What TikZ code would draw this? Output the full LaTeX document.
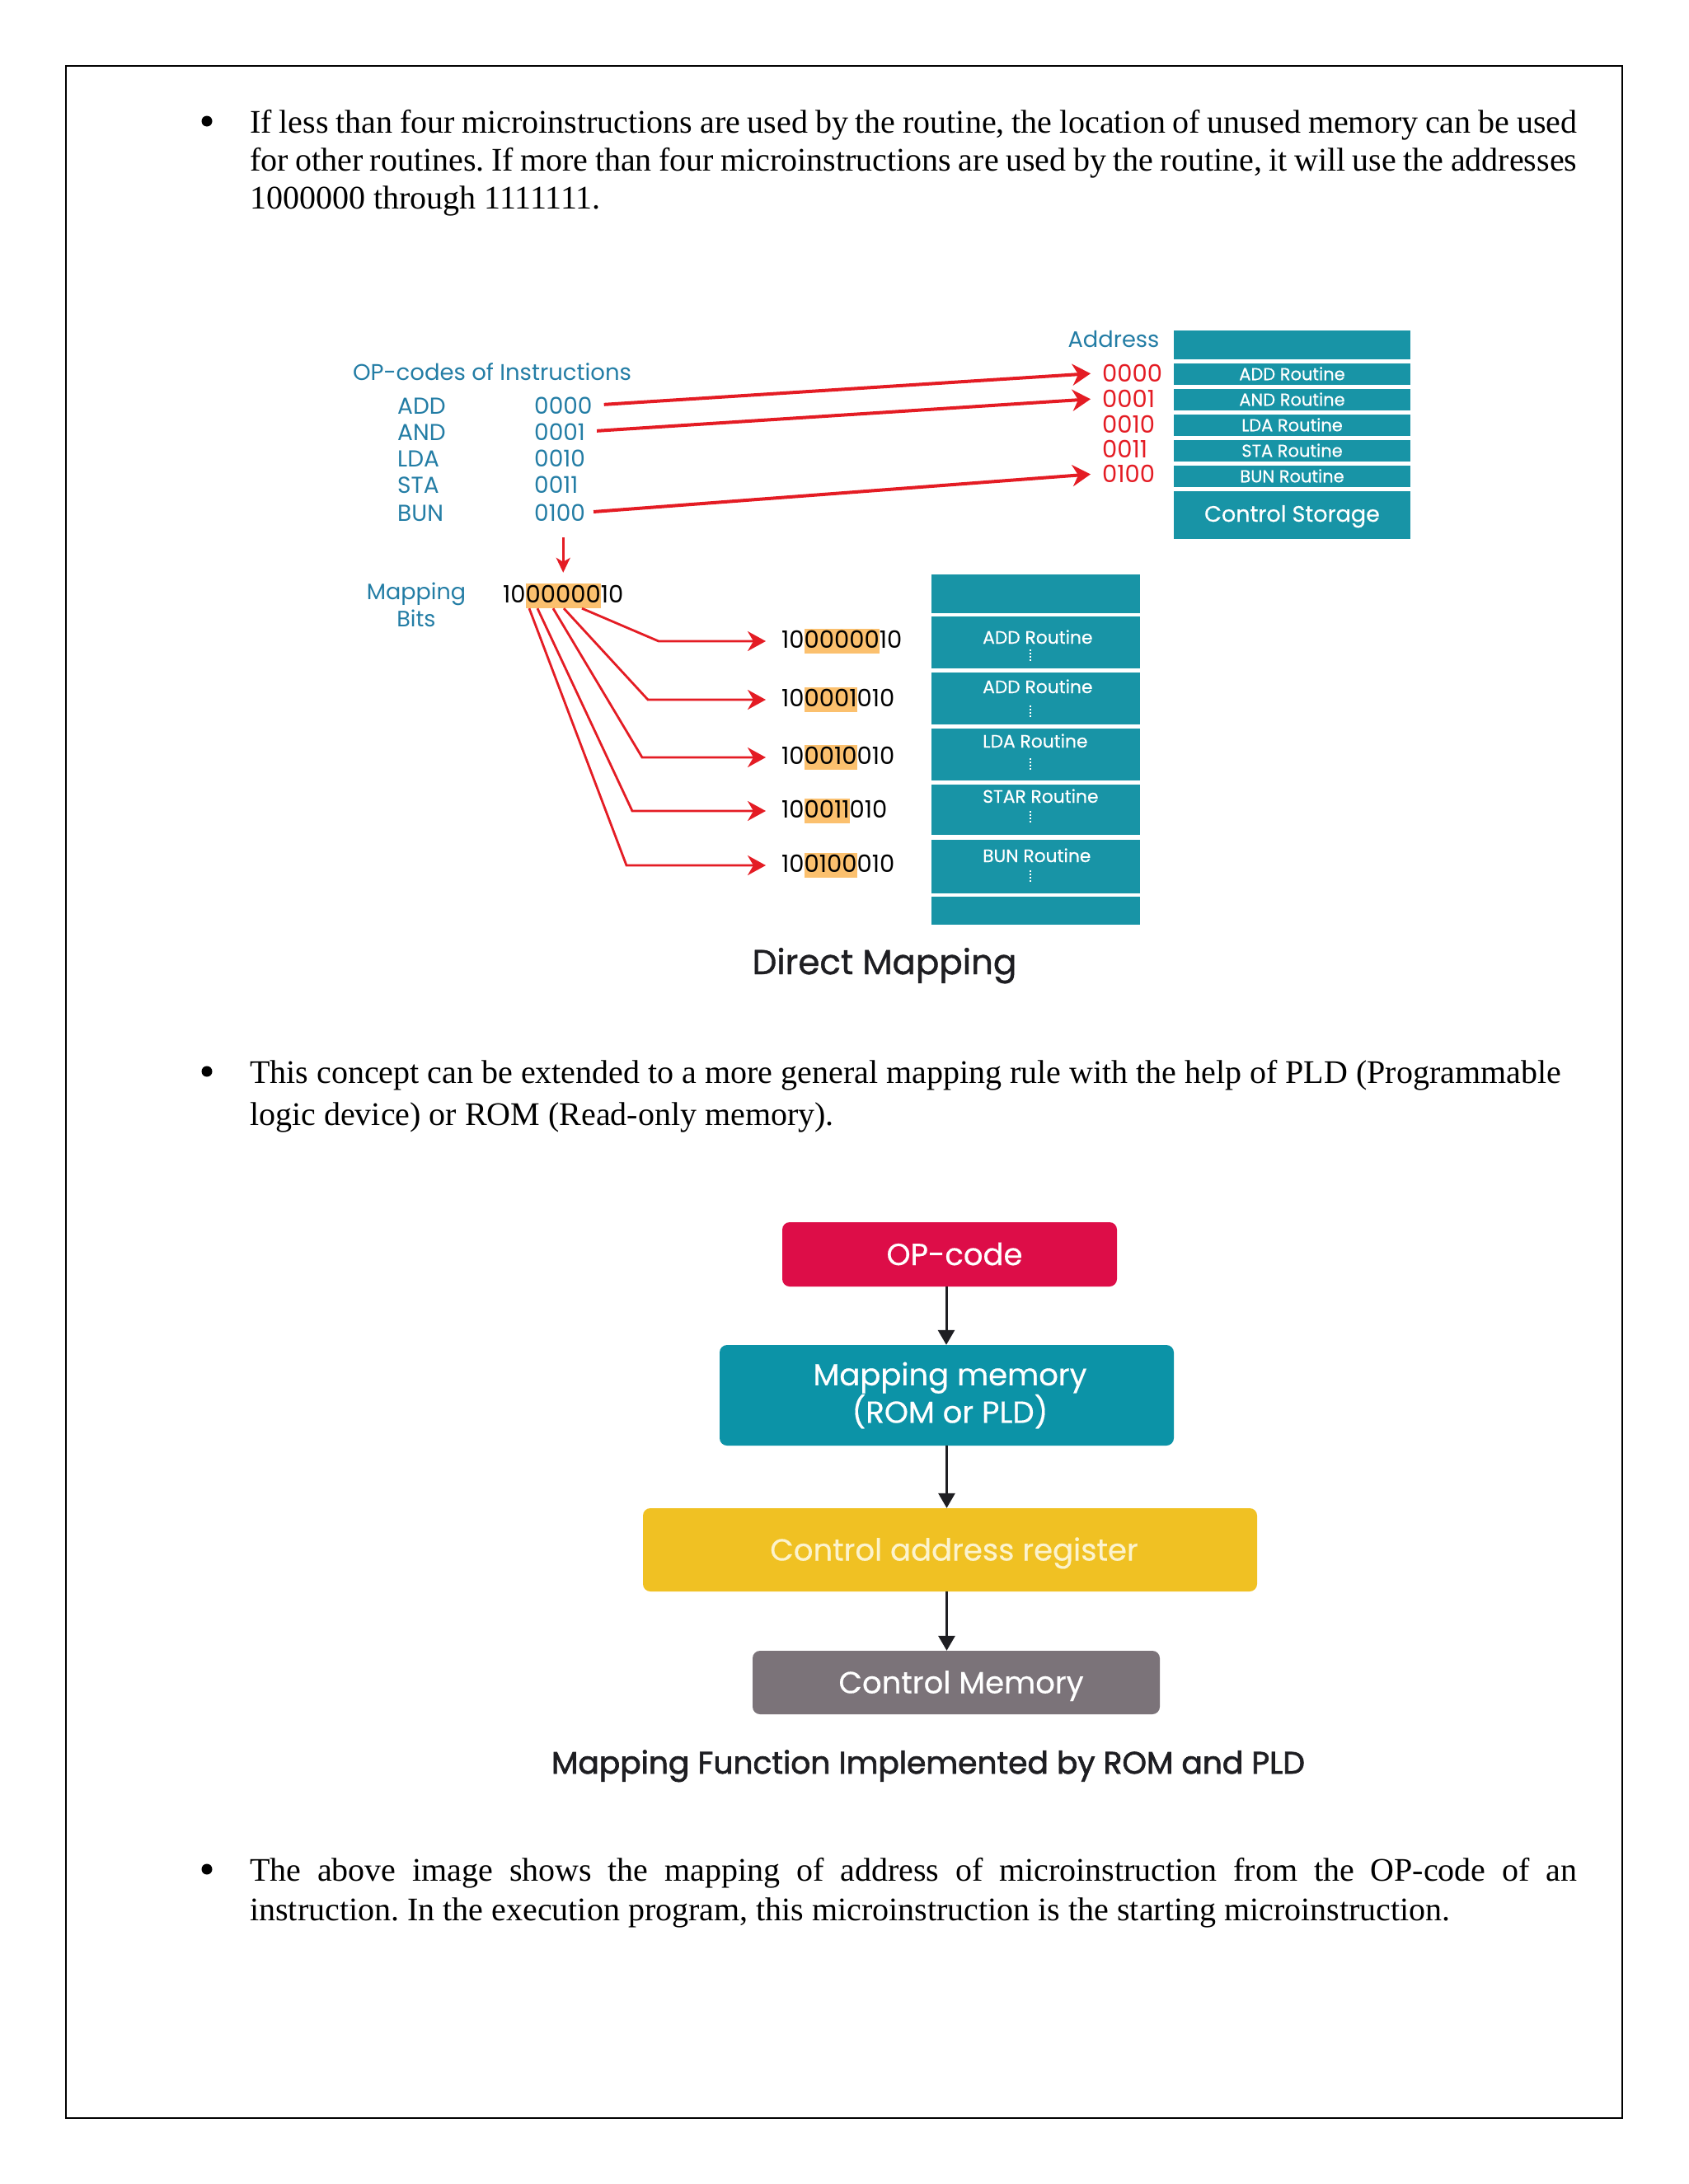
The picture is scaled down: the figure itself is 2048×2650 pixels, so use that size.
\documentclass[tikz,border=0pt]{standalone}
\usepackage{fontspec}
\setmainfont{Liberation Serif}
\newfontfamily\pop{Poppins}
\newfontfamily\popmed[FakeBold=1]{Poppins}
\newfontfamily\poplt[FakeBold=0.4]{Poppins}
\newfontfamily\popsemi[FakeBold=1.8]{Poppins}
\usetikzlibrary{arrows.meta}
\definecolor{tealbox}{RGB}{24,148,166}
\definecolor{tealtxt}{RGB}{35,125,165}
\definecolor{redc}{RGB}{228,28,36}
\definecolor{hlor}{RGB}{251,192,110}
\definecolor{opcred}{RGB}{221,13,72}
\definecolor{mapteal}{RGB}{12,147,167}
\definecolor{caryel}{RGB}{240,193,35}
\definecolor{cartxt}{RGB}{252,243,205}
\definecolor{cmemgr}{RGB}{123,115,121}
\definecolor{darktxt}{RGB}{30,30,34}
\newcommand{\hlb}[1]{{\setlength{\fboxsep}{0pt}\colorbox{hlor}{\rule[-7pt]{0pt}{30pt}#1}}}
\newcommand{\bodysize}{\fontsize{40}{46}\selectfont}
\frenchspacing
\begin{document}
\begin{tikzpicture}[x=1pt,y=-1pt,
  body/.style={anchor=base west, inner sep=0, font=\bodysize},
  bul/.style={circle, fill=black, inner sep=0, minimum size=13pt},
  optxt/.style={anchor=base west, inner sep=0, text=tealtxt, font=\pop\fontsize{28}{30}\selectfont},
  raddr/.style={anchor=base west, inner sep=0, text=redc, font=\pop\fontsize{29}{30}\selectfont},
  bits/.style={anchor=base west, inner sep=0, text=black, font=\pop\fontsize{29}{30}\selectfont},
  stor/.style={fill=tealbox, minimum width=287pt, inner sep=0, text=white, text height=14.5pt, text depth=0pt, font=\poplt\fontsize{21}{21}\selectfont},
  lcol/.style={fill=tealbox, minimum width=253pt, inner sep=0},
  llab/.style={anchor=base west, inner sep=0, text=white, font=\poplt\fontsize{21.8}{22}\selectfont},
  dotw/.style={draw=white, line width=1.5pt, dash pattern=on 2pt off 2pt},
  redarr/.style={draw=redc, line width=4pt, -{Stealth[length=22pt,width=26pt,inset=7pt]}},
  fan/.style={draw=redc, line width=2.8pt, shorten >=19pt, -{Stealth[length=22pt,width=24pt,inset=7pt]}},
  flow/.style={rounded corners=9pt, inner sep=0, font=\poplt\fontsize{37}{43}\selectfont},
  farr/.style={draw=darktxt, line width=3pt, -{Triangle[length=18pt,width=20pt]}}
]
\useasboundingbox (0,0) rectangle (2048,2650);
\fill[white] (0,0) rectangle (2048,2650);
\draw[line width=2.5pt] (80,80) rectangle (1968,2570);

% ---------- paragraph 1
\node[bul] (b1) at (251,147) {};
\node[body] (p1a) at (303,161) {\makebox[1610pt][s]{If less than four microinstructions are used by the routine, the location of unused memory can be used}};
\node[body] (p1b) at (303,207) {\makebox[1610pt][s]{for other routines. If more than four microinstructions are used by the routine, it will use the addresses}};
\node[body] (p1c) at (303,253) {1000000 through 1111111.};

% ---------- direct mapping diagram
\node[anchor=base, inner sep=0, text=tealtxt, font=\pop\fontsize{27.3}{30}\selectfont] (addr) at (1351,421.5) {Address};
\node[anchor=base, inner sep=0, text=tealtxt, font=\pop\fontsize{27.5}{30}\selectfont] (opt) at (597,461.5) {OP-codes of Instructions};

\node[optxt] (n0) at (482,502) {ADD};
\node[optxt] (n1) at (482,534) {AND};
\node[optxt] (n2) at (482,566) {LDA};
\node[optxt] (n3) at (482,598) {STA};
\node[optxt] (n4) at (482,632) {BUN};
\node[optxt] (c0) at (648,502) {0000};
\node[optxt] (c1) at (648,534) {0001};
\node[optxt] (c2) at (648,566) {0010};
\node[optxt] (c3) at (648,598) {0011};
\node[optxt] (c4) at (648,632) {0100};

\node[raddr] (a0) at (1337,463) {0000};
\node[raddr] (a1) at (1337,494) {0001};
\node[raddr] (a2) at (1337,525) {0010};
\node[raddr] (a3) at (1337,555) {0011};
\node[raddr] (a4) at (1337,585) {0100};

\node[stor, minimum height=35pt] (s0) at (1567.5,418.5) {};
\node[stor, minimum height=26pt] (s1) at (1567.5,454) {ADD Routine};
\node[stor, minimum height=26pt] (s2) at (1567.5,485) {AND Routine};
\node[stor, minimum height=26pt] (s3) at (1567.5,516) {LDA Routine};
\node[stor, minimum height=26pt] (s4) at (1567.5,547) {STA Routine};
\node[stor, minimum height=26pt] (s5) at (1567.5,578) {BUN Routine};
\node[stor, minimum height=58pt, text height=16pt, font=\poplt\fontsize{27}{27}\selectfont] (s6) at (1567.5,625) {Control Storage};

\draw[redarr, shorten <=14pt, shorten >=14pt] (c0.east) -- (a0.west);
\draw[redarr, shorten <=14pt, shorten >=14pt] (c1.east) -- (a1.west);
\draw[redarr, shorten <=10pt, shorten >=14pt] (c4.east) -- (a4.west);

\node[align=center, inner sep=0, text=tealtxt, font=\pop\fontsize{27}{33}\selectfont] (mbl) at (505,734) {Mapping\\Bits};
\node[bits] (mb) at (610,731) {10\hlb{00000}10};
\draw[draw=redc, line width=3pt, shorten <=20pt, shorten >=13pt, -{Stealth[length=18pt,width=17pt,inset=5pt]}] (mb.north |- c4.south) -- (mb.north);

\node[bits] (m0) at (948,786) {10\hlb{00000}10};
\node[bits] (m1) at (948,857) {10\hlb{0001}010};
\node[bits] (m2) at (948,927) {10\hlb{0010}010};
\node[bits] (m3) at (948,992) {10\hlb{0011}010};
\node[bits] (m4) at (948,1058) {10\hlb{0100}010};

\draw[fan] ([xshift=96pt]mb.south west) -- ([xshift=-149pt]m0.west) -- (m0.west);
\draw[fan] ([xshift=74pt]mb.south west) -- ([xshift=-162pt]m1.west) -- (m1.west);
\draw[fan] ([xshift=61pt]mb.south west) -- ([xshift=-169pt]m2.west) -- (m2.west);
\draw[fan] ([xshift=42pt]mb.south west) -- ([xshift=-181pt]m3.west) -- (m3.west);
\draw[fan] ([xshift=32pt]mb.south west) -- ([xshift=-188pt]m4.west) -- (m4.west);

\node[lcol, minimum height=47pt] (r0) at (1256.5,720.5) {};
\node[lcol, minimum height=63pt] (r1) at (1256.5,779.5) {};
\node[lcol, minimum height=63pt] (r2) at (1256.5,847.5) {};
\node[lcol, minimum height=63pt] (r3) at (1256.5,915.5) {};
\node[lcol, minimum height=61pt] (r4) at (1256.5,982.5) {};
\node[lcol, minimum height=65pt] (r5) at (1256.5,1051.5) {};
\node[lcol, minimum height=34pt] (r6) at (1256.5,1105) {};
\node[llab] (l1) at (1192,781) {ADD Routine};
\node[llab] (l2) at (1192,841) {ADD Routine};
\node[llab] (l3) at (1192,907) {LDA Routine};
\node[llab] (l4) at (1192,974) {STAR Routine};
\node[llab] (l5) at (1192,1046) {BUN Routine};
\draw[dotw] (1250,788) -- (1250,802);
\draw[dotw] (1250,856) -- (1250,870);
\draw[dotw] (1250,920) -- (1250,934);
\draw[dotw] (1250,984) -- (1250,998);
\draw[dotw] (1250,1056) -- (1250,1070);

\node[anchor=base, inner sep=0, text=darktxt, font=\popmed\fontsize{42}{42}\selectfont] (dm) at (1073,1182) {Direct Mapping};

% ---------- paragraph 2
\node[bul] (b2) at (251,1300) {};
\node[body] (p2a) at (303,1314) {This concept can be extended to a more general mapping rule with the help of PLD (Programmable};
\node[body] (p2b) at (303,1365) {logic device) or ROM (Read-only memory).};

% ---------- flowchart
\node[flow, fill=opcred, text=white, minimum width=406pt, minimum height=78pt, text height=26pt, text depth=0pt] (opc) at (1152,1522) {\hspace{12pt}OP-code};
\node[flow, fill=mapteal, text=white, minimum width=551pt, minimum height=122pt, align=center] (mapm) at (1148.5,1693) {\hspace{8pt}Mapping memory\\\hspace{8pt}(ROM or PLD)};
\node[flow, fill=caryel, text=cartxt, minimum width=745pt, minimum height=101pt, text height=26pt, text depth=0pt] (car) at (1152.5,1880.5) {\hspace{10pt}Control address register};
\node[flow, fill=cmemgr, text=white, minimum width=494pt, minimum height=77pt, text height=26pt, text depth=0pt] (cmem) at (1160,2041.5) {\hspace{12pt}Control Memory};
\draw[farr] ([xshift=-4pt]opc.south) -- ([xshift=-4pt]opc.south |- mapm.north);
\draw[farr] (mapm.south) -- (mapm.south |- car.north);
\draw[farr] ([xshift=-4pt]car.south) -- ([xshift=-4pt]car.south |- cmem.north);
\node[anchor=base, inner sep=0, text=darktxt, font=\popsemi\fontsize{37.6}{38}\selectfont] (cap) at (1126,2152) {Mapping Function Implemented by ROM and PLD};

% ---------- paragraph 3
\node[bul] (b3) at (251,2268) {};
\node[body] (p3a) at (303,2282) {\makebox[1610pt][s]{The above image shows the mapping of address of microinstruction from the OP-code of an}};
\node[body] (p3b) at (303,2330) {instruction. In the execution program, this microinstruction is the starting microinstruction.};
\end{tikzpicture}
\end{document}
